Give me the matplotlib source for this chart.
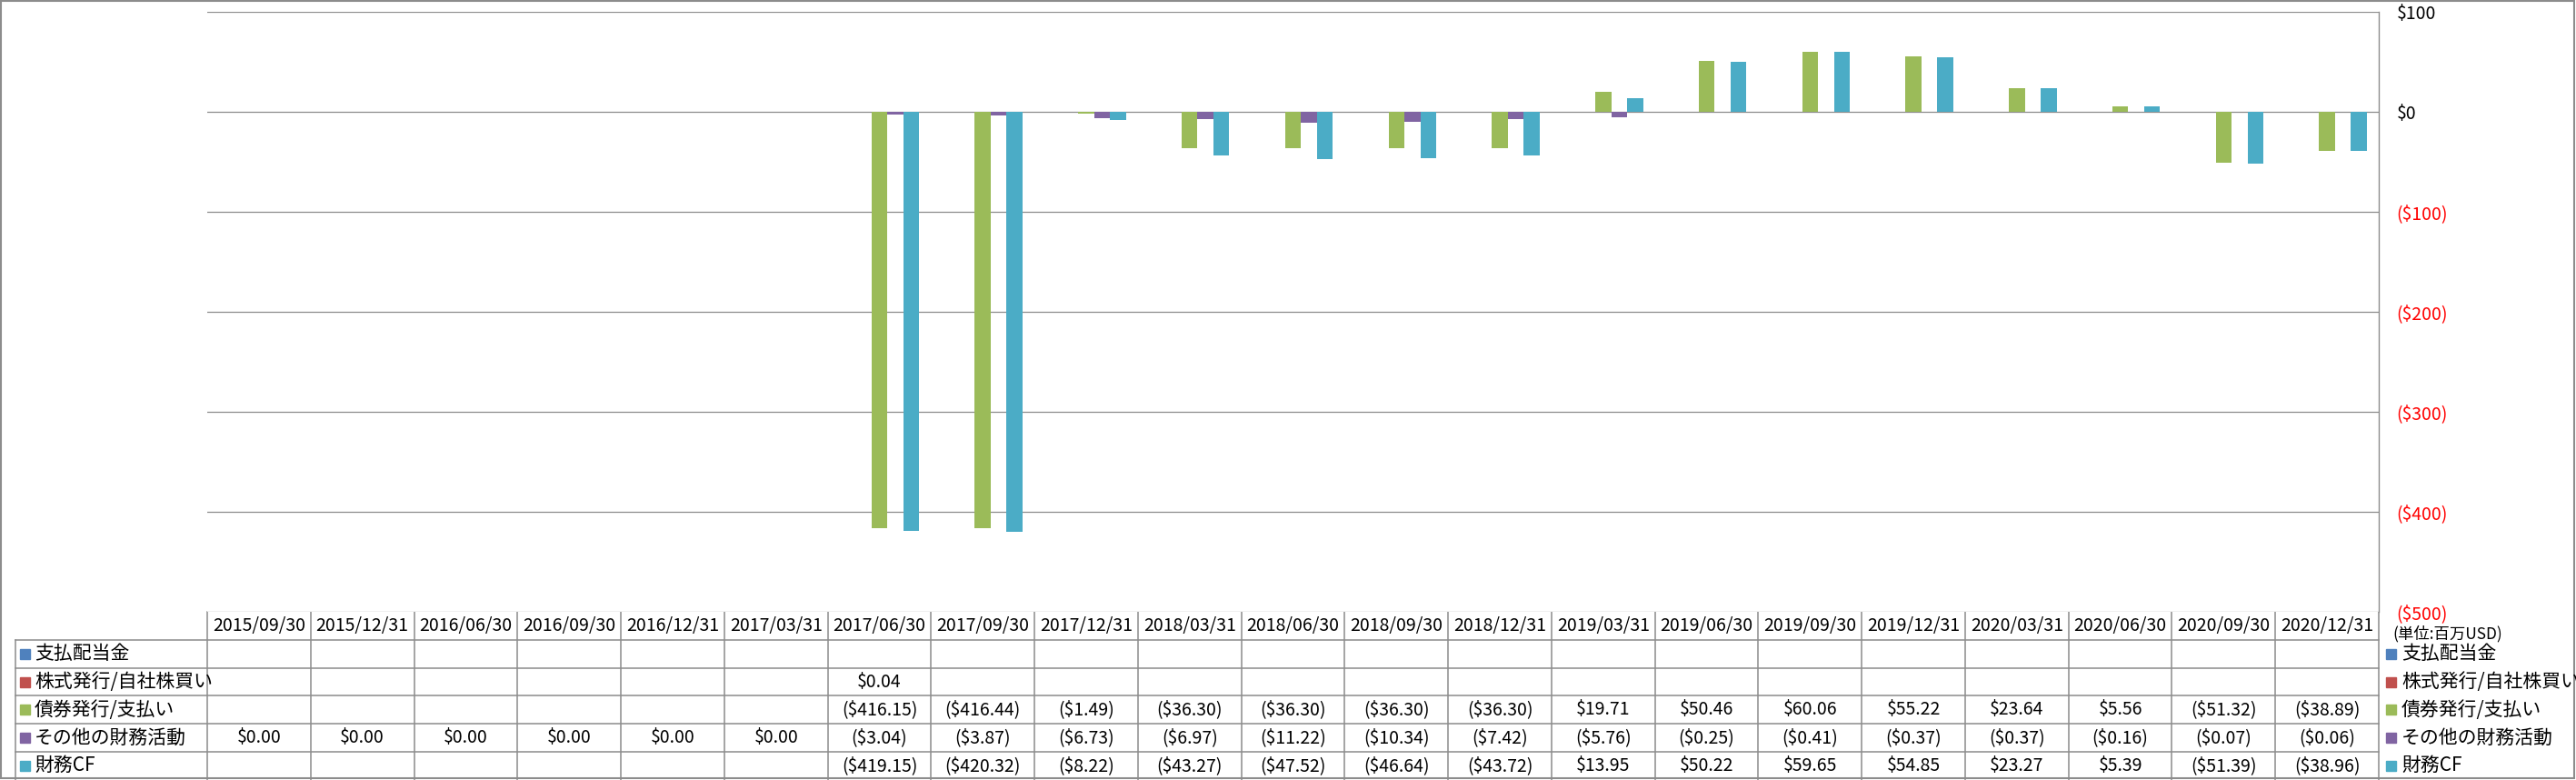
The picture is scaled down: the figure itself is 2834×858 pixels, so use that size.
import numpy as np
import matplotlib
matplotlib.use("Agg")
import matplotlib.pyplot as plt
from matplotlib.patches import Rectangle

plt.rcParams['font.family'] = ['Noto Sans CJK JP', 'DejaVu Sans']

dates = ["2015/09/30", "2015/12/31", "2016/06/30", "2016/09/30", "2016/12/31",
         "2017/03/31", "2017/06/30", "2017/09/30", "2017/12/31", "2018/03/31",
         "2018/06/30", "2018/09/30", "2018/12/31", "2019/03/31", "2019/06/30",
         "2019/09/30", "2019/12/31", "2020/03/31", "2020/06/30", "2020/09/30",
         "2020/12/31"]

N = None
dividends = [N] * 21
equity = [N, N, N, N, N, N, 0.04] + [N] * 14
debt = [N, N, N, N, N, N, -416.15, -416.44, -1.49, -36.30, -36.30, -36.30, -36.30,
        19.71, 50.46, 60.06, 55.22, 23.64, 5.56, -51.32, -38.89]
other = [0.00, 0.00, 0.00, 0.00, 0.00, 0.00, -3.04, -3.87, -6.73, -6.97, -11.22,
         -10.34, -7.42, -5.76, -0.25, -0.41, -0.37, -0.37, -0.16, -0.07, -0.06]
fin_cf = [N, N, N, N, N, N, -419.15, -420.32, -8.22, -43.27, -47.52, -46.64, -43.72,
          13.95, 50.22, 59.65, 54.85, 23.27, 5.39, -51.39, -38.96]

series_names = ["支払配当金", "株式発行/自社株買い", "債券発行/支払い", "その他の財務活動", "財務CF"]
series_values = [dividends, equity, debt, other, fin_cf]
colors = ["#4F81BD", "#C0504D", "#9BBB59", "#8064A2", "#4BACC6"]

W, H = 2834, 858
GRID = "#8C8C8C"
fig = plt.figure(figsize=(W / 100, H / 100), dpi=100)

# plot area in pixels
px_l, px_r, px_t, px_b = 228, 2617, 13, 673
ax = fig.add_axes([px_l / W, 1 - px_b / H, (px_r - px_l) / W, (px_b - px_t) / H])

n = len(dates)
bw = 1 / 6.5
x = np.arange(n)
for j, (vals, c) in enumerate(zip(series_values, colors)):
    v = np.array([np.nan if a is None else a for a in vals], dtype=float)
    ax.bar(x + (j - 2) * bw, v, width=bw, color=c, zorder=3)

ax.set_xlim(-0.5, n - 0.5)
ax.set_ylim(-500, 100)
ticks = np.arange(-500, 101, 100)
ax.set_yticks(ticks)


def money(v):
    return f"${v:,.0f}" if v >= 0 else f"(${-v:,.0f})"


ax.set_yticklabels([money(t) for t in ticks])
ax.yaxis.tick_right()
ax.tick_params(axis='y', length=0, pad=14, labelsize=14)
for lab, t in zip(ax.get_yticklabels(), ticks):
    lab.set_color("#FF0000" if t < 0 else "black")
    lab.set_horizontalalignment("left")
ax.set_xticks([])
ax.grid(axis='y', color=GRID, lw=0.9, zorder=1)
for s in ["top", "left", "bottom"]:
    ax.spines[s].set_visible(False)
ax.spines["right"].set_color(GRID)
ax.spines["right"].set_linewidth(1.0)

# overlay in pixel coordinates for the data table / legend
ov = fig.add_axes([0, 0, 1, 1], zorder=-1)
ov.set_xlim(0, W)
ov.set_ylim(H, 0)
ov.axis("off")

colw = (px_r - px_l) / n
rowh = 30.8
row_top = px_b
lab_l = 17


def fmt(v):
    if v is None:
        return ""
    return f"${v:,.2f}" if v >= 0 else f"(${-v:,.2f})"


# outer border
ov.add_patch(Rectangle((1, 1), W - 3, H - 3, fill=False, ec=GRID, lw=1.5))

# horizontal table lines
for k in range(1, 6):
    y = row_top + k * rowh
    ov.plot([lab_l, px_r], [y, y], color=GRID, lw=1.1)
# vertical table lines
for i in range(n + 1):
    xx = px_l + i * colw
    ov.plot([xx, xx], [row_top, H], color=GRID, lw=1.1)
ov.plot([lab_l, lab_l], [row_top + rowh, H], color=GRID, lw=1.1)

# header dates
for i, d in enumerate(dates):
    ov.text(px_l + (i + 0.5) * colw, row_top + rowh / 2, d, ha="center", va="center", fontsize=14)

for r, (name, vals, c) in enumerate(zip(series_names, series_values, colors)):
    yc = row_top + (r + 1.5) * rowh
    ov.add_patch(Rectangle((22, yc - 5.5), 11, 11, color=c))
    ov.text(38, yc, name, ha="left", va="center", fontsize=15)
    for i, v in enumerate(vals):
        ov.text(px_l + (i + 0.5) * colw, yc, fmt(v), ha="center", va="center", fontsize=14)
    # right legend
    ov.add_patch(Rectangle((2625, yc - 5.5), 11, 11, color=c))
    ov.text(2642, yc, name, ha="left", va="center", fontsize=15)

ov.text(2632, 697, "(単位:百万USD)", ha="left", va="center", fontsize=12.5)

fig.savefig("out.png", dpi=100)
